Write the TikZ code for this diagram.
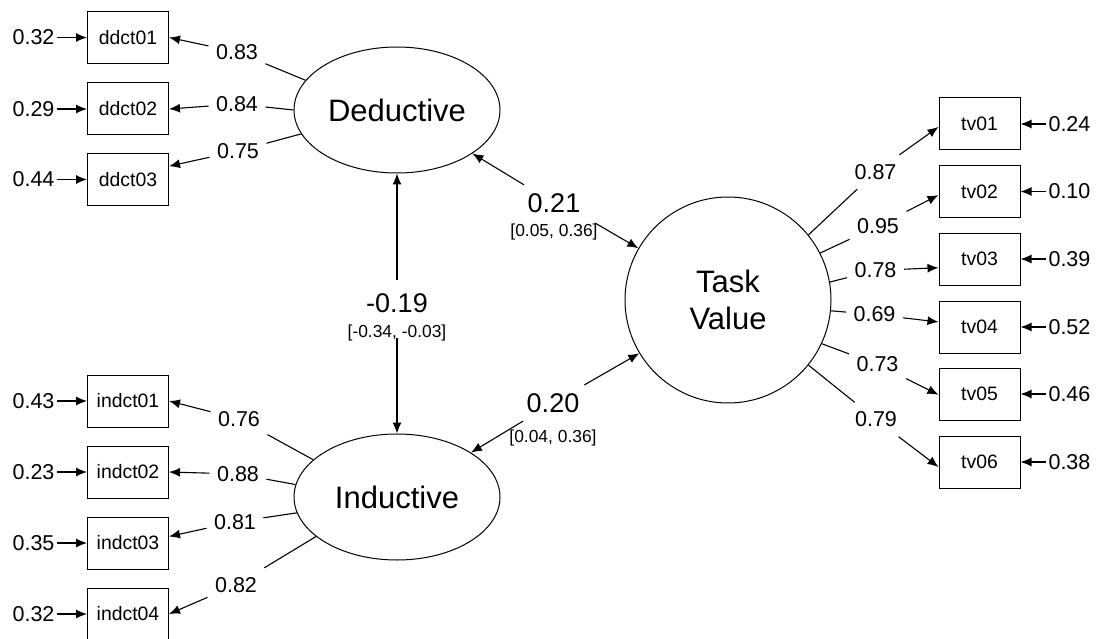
\documentclass[tikz,border=0pt]{standalone}
\usepackage{fontspec}
\setmainfont{Liberation Sans}
\usetikzlibrary{shapes.geometric,arrows.meta}
\begin{document}
\begin{tikzpicture}[x=1pt,y=-1pt,line width=1.1pt,
  every node/.style={font=\fontsize{21.5}{24}\selectfont},
  obs/.style={draw, line width=1pt, minimum width=81pt, minimum height=52pt, inner sep=0pt, font=\fontsize{19.4}{22}\selectfont},
  lat/.style={draw, ellipse, line width=1pt, minimum width=206pt, minimum height=126pt, inner sep=0pt, font=\fontsize{31}{37}\selectfont},
  latc/.style={draw, circle, line width=1pt, minimum size=206pt, inner sep=0pt, align=center, font=\fontsize{31}{37}\selectfont},
  lab/.style={inner xsep=7pt, inner ysep=9pt},
  err/.style={inner sep=2pt},
  cov/.style={inner xsep=6pt, inner ysep=8pt, font=\fontsize{27}{30}\selectfont},
  ci/.style={inner sep=1pt, font=\fontsize{17.4}{20}\selectfont},
  arr/.style={-{Latex[length=11pt,width=9pt]}}
]
\useasboundingbox (0,0) rectangle (1100,639);

% latent variables
\node[lat] (D) at (397,110) {Deductive};
\node[lat] (I) at (397,497) {Inductive};
\node[latc] (TV) at (728,300) {Task\\Value};

% observed: deductive
\node[obs] (d1) at (128,37.5) {ddct01};
\node[obs] (d2) at (128,109) {ddct02};
\node[obs] (d3) at (128,179.5) {ddct03};
% observed: inductive
\node[obs] (i1) at (128,401) {indct01};
\node[obs] (i2) at (128,472) {indct02};
\node[obs] (i3) at (128,543) {indct03};
\node[obs] (i4) at (128,614) {indct04};
% observed: task value
\node[obs] (t1) at (979.5,124) {tv01};
\node[obs] (t2) at (979.5,191.5) {tv02};
\node[obs] (t3) at (979.5,259) {tv03};
\node[obs] (t4) at (979.5,327) {tv04};
\node[obs] (t5) at (979.5,394) {tv05};
\node[obs] (t6) at (979.5,462) {tv06};

% error terms left
\node[err, anchor=east] (ed1) at (57,37.5) {0.32};
\node[err, anchor=east] (ed2) at (57,109) {0.29};
\node[err, anchor=east] (ed3) at (57,179.5) {0.44};
\node[err, anchor=east] (ei1) at (57,401) {0.43};
\node[err, anchor=east] (ei2) at (57,472) {0.23};
\node[err, anchor=east] (ei3) at (57,543) {0.35};
\node[err, anchor=east] (ei4) at (57,614) {0.32};
\foreach \e/\b in {ed1/d1,ed2/d2,ed3/d3,ei1/i1,ei2/i2,ei3/i3,ei4/i4}
  \draw[arr] (\e) -- (\b);
% error terms right
\node[err, anchor=west] (et1) at (1046,124) {0.24};
\node[err, anchor=west] (et2) at (1046,191.5) {0.10};
\node[err, anchor=west] (et3) at (1046,259) {0.39};
\node[err, anchor=west] (et4) at (1046,327) {0.52};
\node[err, anchor=west] (et5) at (1046,394) {0.46};
\node[err, anchor=west] (et6) at (1046,462) {0.38};
\foreach \e/\b in {et1/t1,et2/t2,et3/t3,et4/t4,et5/t5,et6/t6}
  \draw[arr] (\e) -- (\b);

% loadings deductive
\node[lab] (ld1) at (237,52) {0.83};
\node[lab] (ld2) at (237,104) {0.84};
\node[lab] (ld3) at (238,151) {0.75};
\draw (D.162) -- (ld1); \draw[arr] (ld1) -- (d1.east);
\draw (D.180) -- (ld2); \draw[arr] (ld2) -- (d2.east);
\draw (D.194.7) -- (ld3); \draw[arr] (ld3) -- (d3.18.4);

% loadings inductive
\node[lab] (li1) at (239,419) {0.76};
\node[lab] (li2) at (238,474) {0.88};
\node[lab] (li3) at (235,522) {0.81};
\node[lab] (li4) at (236,585) {0.82};
\draw (I.156.5) -- (li1); \draw[arr] (li1) -- (i1.east);
\draw (I.173.8) -- (li2); \draw[arr] (li2) -- (i2.east);
\draw (I.189.6) -- (li3); \draw[arr] (li3) -- (i3.9.8);
\draw (I.206.8) -- (li4); \draw[arr] (li4) -- (i4.east);

% loadings task value
\node[lab] (lt1) at (875.5,172) {0.87};
\node[lab] (lt2) at (878,226) {0.95};
\node[lab] (lt3) at (875.5,270.5) {0.78};
\node[lab] (lt4) at (874.5,314.5) {0.69};
\node[lab] (lt5) at (877.5,364.5) {0.73};
\node[lab] (lt6) at (876,419.5) {0.79};
\draw (TV.39.5) -- (lt1); \draw[arr] (lt1) -- (t1.184);
\draw (TV.27) -- (lt2); \draw[arr] (lt2) -- (t2.185);
\draw (TV.10) -- (lt3); \draw[arr] (lt3) -- (t3.192.5);
\draw (TV.-6) -- (lt4); \draw[arr] (lt4) -- (t4.173);
\draw (TV.-25) -- (lt5); \draw[arr] (lt5) -- (t5.181);
\draw (TV.-39) -- (lt6); \draw[arr] (lt6) -- (t6.187);

% covariances
\node[cov, inner ysep=13pt] (l19) at (397,303) {-0.19};
\node[ci] (l19ci) at (397,333) {[-0.34, -0.03]};
\coordinate (c19) at (397,338);
\draw[arr] (l19) -- (D);
\draw[arr] (c19) -- (I);

\node[cov] (l21) at (554,203) {0.21};
\node[ci] (l21ci) at (554,232) {[0.05, 0.36]};
\coordinate (c21) at (595,223);
\draw[arr] (l21) -- (D.-30);
\draw[arr] (c21) -- (TV.150);

\node[cov] (l20) at (553,403) {0.20};
\node[ci] (l20ci) at (553,438) {[0.04, 0.36]};
\draw[arr] (l20) -- (TV.211);
\draw[arr] (l20) -- (I.31);
\end{tikzpicture}
\end{document}
